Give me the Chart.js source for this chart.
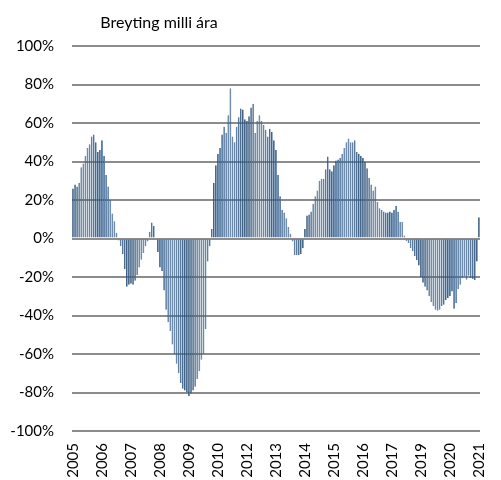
<!DOCTYPE html>
<html>
<head>
<meta charset="utf-8">
<script src="https://cdn.jsdelivr.net/npm/chart.js@4/dist/chart.umd.min.js"></script>
<style>
  html, body { margin: 0; padding: 0; background: #fff; }
  #chart { display: block; }
</style>
</head>
<body>
<canvas id="chart" width="501" height="480"></canvas>
<script>
const chartTitle = "Breyting milli ára";

// Year-on-year change (%), monthly, Jan 2005 - May 2021
const years = [2005, 2006, 2007, 2008, 2009, 2010, 2011, 2012, 2013, 2014, 2015, 2016, 2017, 2018, 2019, 2020, 2021];
const v2005 = [26, 28, 27, 29, 37, 39, 43, 47, 49, 53, 54, 50];
const v2006 = [45, 46, 51, 43, 33, 27, 20, 13, 9, 3, -1, -4];
const v2007 = [-8, -16, -25, -24, -23.5, -24, -22, -19, -15, -11, -7.5, -4];
const v2008 = [-1.5, 3.5, 8.3, 6.6, -0.5, -7, -15, -17, -27, -37, -43.5, -48];
const v2009 = [-55, -60, -65, -70, -75, -78, -79, -80, -82, -80.5, -79, -77];
const v2010 = [-73, -69, -63, -60, -47, -12, -4, 5, 29, 38, 44, 47];
const v2011 = [54, 58, 55, 64, 78, 53, 50, 58, 63, 67.5, 67, 62];
const v2012 = [61, 63.5, 68, 70, 55, 61, 64, 61, 59, 56.5, 53, 57];
const v2013 = [55.5, 51, 46, 33, 22, 15, 13.5, 10.5, 6, 2.5, -1.5, -8.7];
const v2014 = [-8.7, -8.7, -8, -5, 5, 12, 12.5, 14, 18, 22, 25, 30];
const v2015 = [31, 31, 36, 42.6, 36, 35, 38, 40.5, 41, 42, 44, 47];
const v2016 = [50, 52, 50, 50, 51, 45, 44, 43, 42, 40, 36.5, 31.5];
const v2017 = [28, 25, 27, 19, 15.7, 14.8, 14, 13.5, 13.5, 14, 13.5, 15];
const v2018 = [17, 14, 8.7, 8.7, 1.5, -1.4, -2.3, -4.9, -6.6, -9.2, -11.3, -14];
const v2019 = [-20, -23, -25, -27, -30, -33, -35, -37, -37.5, -37, -35, -34.4];
const v2020 = [-32, -31, -30, -27.5, -36.5, -33.5, -26.3, -24, -20.6, -19.7, -21.4, -19.3];
const v2021 = [-20.6, -21, -21.5, -12, 11];

const yearValues = [v2005, v2006, v2007, v2008, v2009, v2010, v2011, v2012, v2013,
  v2014, v2015, v2016, v2017, v2018, v2019, v2020, v2021];

// Excel shows every 14th category label
const labelEvery = 14;

const labels = [];
const values = [];
yearValues.forEach((arr, yi) => {
  arr.forEach((v, mi) => {
    labels.push(years[yi] + "-" + String(mi + 1).padStart(2, "0"));
    values.push(v);
  });
});

const FONT = "Lato, 'Open Sans', sans-serif";

const titlePlugin = {
  id: "topTitle",
  afterDraw(chart) {
    const ctx = chart.ctx;
    ctx.save();
    ctx.font = "16px " + FONT;
    ctx.fillStyle = "#000";
    ctx.textAlign = "center";
    ctx.textBaseline = "middle";
    ctx.fillText(chartTitle, chart.chartArea.left + 87, 23);
    ctx.restore();
  },
};

new Chart(document.getElementById("chart"), {
  type: "bar",
  data: {
    labels: labels,
    datasets: [{
      data: values,
      backgroundColor: "#4d739c",
      borderColor: "#244a72",
      borderWidth: { left: 1, right: 0, top: 0, bottom: 0 },
      barPercentage: 0.85,
      categoryPercentage: 1,
    }],
  },
  options: {
    responsive: false,
    animation: false,
    layout: { padding: { top: 46, right: 7, left: 0, bottom: 0 } },
    plugins: {
      legend: { display: false },
      tooltip: { enabled: false },
    },
    scales: {
      x: {
        grid: { display: false },
        border: { display: false },
        ticks: {
          autoSkip: false,
          maxRotation: 90,
          minRotation: 90,
          padding: 4,
          color: "#000",
          font: { family: FONT, size: 15 },
          callback: function (val, idx) {
            return idx % labelEvery === 0 ? this.getLabelForValue(val).slice(0, 4) : "";
          },
        },
        afterFit(axis) { axis.height = 49; },
      },
      y: {
        min: -100,
        max: 100,
        grid: { color: "#8c8c8c", lineWidth: 2, drawTicks: false },
        border: { display: false },
        ticks: {
          stepSize: 20,
          padding: 18,
          color: "#000",
          font: { family: FONT, size: 15 },
          callback: (v) => v + "%",
        },
        afterFit(axis) { axis.width = 72; },
      },
    },
  },
  plugins: [titlePlugin],
});
</script>
</body>
</html>
